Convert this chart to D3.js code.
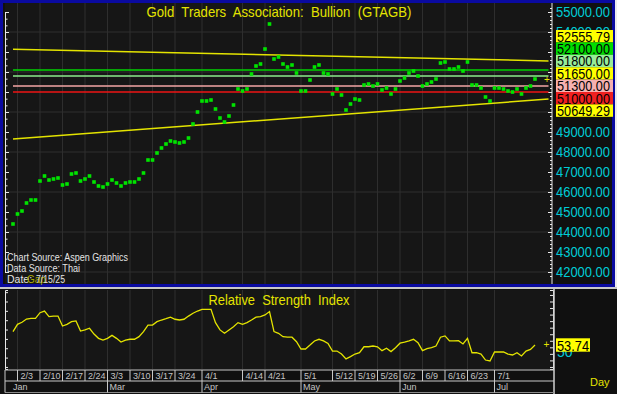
<!DOCTYPE html>
<html lang="en">
<head>
<meta charset="UTF-8">
<title>Gold Traders Association: Bullion (GTAGB)</title>
<script src="https://d3js.org/d3.v7.min.js"></script>
<style>
  html, body { margin: 0; padding: 0; background: #ececec; }
  svg { display: block; font-family: "Liberation Sans", Arial, sans-serif; }
</style>
</head>
<body>
<svg width="617" height="394"></svg>
<script>
// ---- data ----
const firstDay = "2025-01-31";
const lastDay = "2025-07-14";

const closes = [
  44400, 44900, 45050, 45450, 45600, 45600, 46550, 46800, 46600, 46650,
  46700, 46350, 46400, 46900, 46950, 46550, 46650, 46800, 46500, 46300,
  46250, 46400, 46600, 46450, 46300, 46450, 46500, 46500, 46650, 46950,
  47600, 47600, 47950, 48200, 48400, 48550, 48500, 48450, 48500, 48700,
  49400, 50000, 50550, 50550, 50600, 50150, 49700, 49500, 49800, 50350,
  51150, 51050, 51150, 51900, 52300, 52400, 53150, 54400, 52650, 52750,
  52400, 52250, 52350, 51950, 51050, 51050, 51600, 52250, 52350, 51950,
  51900, 50900, 51150, 50850, 50100, 50400, 50650, 50600, 51350, 51400,
  51300, 51400, 51100, 51200, 50900, 51150, 51550, 51700, 51950, 52050,
  51800, 51300, 51400, 51500, 51650, 52450, 52500, 52150, 52150, 52250,
  52050, 52500, 51350, 51350, 51200, 50750, 50550, 51200, 51200, 51150,
  51050, 51000, 51150, 50900, 51200, 51300, 51650
];

const rsi = [
  60.9, 64.8, 65.9, 67.6, 68.0, 68.0, 71.0, 71.9, 68.9, 69.2,
  69.2, 63.9, 64.8, 66.2, 66.6, 61.2, 61.8, 62.7, 59.6, 57.3,
  56.4, 57.3, 58.9, 57.3, 55.3, 56.3, 56.8, 56.8, 58.2, 60.9,
  64.4, 64.4, 66.2, 67.1, 67.8, 68.6, 67.5, 67.1, 67.5, 69.2,
  70.7, 71.9, 72.8, 72.8, 72.8, 65.7, 61.8, 60.0, 61.8, 63.5,
  65.7, 64.8, 65.7, 67.1, 68.6, 68.9, 69.8, 71.6, 60.9, 60.0,
  58.2, 57.9, 57.9, 55.5, 51.6, 51.6, 53.7, 55.9, 56.8, 55.9,
  54.6, 50.5, 50.5, 48.9, 46.3, 47.5, 48.9, 49.6, 52.8, 52.8,
  53.2, 52.8, 50.7, 52.0, 50.2, 52.3, 54.7, 55.3, 56.0, 56.8,
  55.0, 50.7, 51.8, 52.3, 53.2, 57.9, 58.6, 55.9, 55.9, 56.0,
  54.3, 57.3, 49.6, 49.6, 48.9, 45.7, 45.2, 50.0, 50.0, 50.0,
  48.9, 48.4, 49.6, 47.9, 50.5, 51.4, 53.74
];

const weekTicks = ["2/3", "2/10", "2/17", "2/24", "3/3", "3/10", "3/17", "3/24", "4/1",
  "4/14", "4/21", "5/1", "5/12", "5/19", "5/26", "6/2", "6/9", "6/16", "6/23", "7/1"];
const monthStarts = ["1/31", "3/3", "4/1", "5/1", "6/2", "7/1"];
const monthNames = ["Jan", "Mar", "Apr", "May", "Jun", "Jul"];

const priceLabels = [42000, 43000, 44000, 45000, 46000, 47000, 48000, 49000,
  50000, 51000, 52000, 53000, 54000, 55000];
const levels = [52100, 51800, 51300, 51000];
const channelStart = [53140, 48650];
const channelEnd = [52555.79, 50649.29];
const lastPrice = 51650;
const lastRsi = 53.74;

// ---- styles ----
const levelColors = ["#00d400", "#8cec8c", "#f4a6a6", "#ee1414"];
const boxColors = {"52555.79": "#ffff00", "52100.00": "#00dd00", "51800.00": "#98ec98",
  "51650.00": "#ffff00", "51300.00": "#f6b0b0", "51000.00": "#f02020", "50649.29": "#ffff00"};
const yellow = "#e4e400";
const cyan = "#00ccd6";
const gridColor = "#2e2e2e";
const f2 = d3.format(".2f");

// ---- scales ----
const parse = d3.timeParse("%Y-%m-%d");
const fmt = d3.timeFormat("%-m/%-d");
const days = d3.timeDay.range(parse(firstDay), d3.timeDay.offset(parse(lastDay), 1))
  .filter(d => d.getDay() !== 0 && d.getDay() !== 6)
  .map(fmt);

const x = d3.scalePoint().domain(days).range([13, 535]);
const step = x.step();
const xEnd = x(days[days.length - 1]) + step * 3;

const y = d3.scaleLinear().domain([42000, 55000]).range([272, 12]);
const yr = d3.scaleLinear().domain([40.9, 83.15]).range([369, 290]);

const svg = d3.select("svg");

// ---- main panel ----
svg.append("rect").attr("x", 1.5).attr("y", 1.5).attr("width", 612).attr("height", 284)
  .attr("fill", "#101010").attr("stroke", "#0a0aa0").attr("stroke-width", 3);
svg.append("rect").attr("x", 5).attr("y", 3).attr("width", 547).attr("height", 281)
  .attr("fill", "#161616");

const main = svg.append("g");

// grid
main.selectAll(".hg").data(d3.range(42000, 55001, 2000)).join("line")
  .attr("x1", 5).attr("x2", 552)
  .attr("y1", d => y(d)).attr("y2", d => y(d))
  .attr("stroke", gridColor);
main.selectAll(".vg").data(weekTicks).join("line")
  .attr("x1", d => x(d)).attr("x2", d => x(d))
  .attr("y1", 3).attr("y2", 284)
  .attr("stroke", gridColor);

// left axis (ticks only)
const leftAxis = main.append("g").attr("transform", "translate(5,0)")
  .call(d3.axisRight(y).tickValues(d3.range(42000, 55300, 1000 / 3)).tickSize(3).tickFormat(""));
leftAxis.selectAll("line").attr("stroke", "#e8e8e8")
  .attr("x2", (d, i) => i % 3 === 0 ? 4 : 2.5);
leftAxis.select(".domain").attr("stroke", "#e8e8e8");

// right axis
const rightAxis = main.append("g").attr("transform", "translate(552,0)")
  .call(d3.axisLeft(y).tickValues(d3.range(41800, 55300, 200)).tickSize(2).tickFormat(""));
rightAxis.selectAll("line").attr("stroke", "#e8e8e8")
  .attr("x2", d => d % 1000 === 0 ? -4 : -2);
rightAxis.select(".domain").attr("stroke", "#e8e8e8").attr("d", "M0,3V284");

// stacked value boxes on the right (layout first, so covered labels can be skipped)
const boxValues = [channelEnd[0], ...levels.slice(0, 2), lastPrice, ...levels.slice(2), channelEnd[1]];
const boxH = 12.4;
const midY = d3.mean(boxValues, d => y(d)) - 7;
const boxY = (d, i) => midY + (i - (boxValues.length - 1) / 2) * boxH;
const boxTop = boxY(null, 0) - boxH / 2;
const boxBottom = boxY(null, boxValues.length - 1) + boxH / 2;

main.selectAll(".plab").data(priceLabels.filter(d => !(y(d) > boxTop + 4 && y(d) < boxBottom)))
  .join("text")
  .attr("x", 556).attr("y", d => y(d)).attr("dy", "0.36em")
  .attr("fill", cyan).attr("font-size", 14)
  .attr("textLength", 54).attr("lengthAdjust", "spacingAndGlyphs")
  .text(d => f2(d));

// level lines
main.selectAll(".lvl").data(levels).join("line")
  .attr("x1", x(days[0])).attr("x2", xEnd)
  .attr("y1", d => y(d)).attr("y2", d => y(d))
  .attr("stroke", (d, i) => levelColors[i]).attr("stroke-width", 1.3);

// channel lines
main.selectAll(".chan").data(channelStart).join("line")
  .attr("x1", x(days[0])).attr("x2", xEnd)
  .attr("y1", d => y(d)).attr("y2", (d, i) => y(channelEnd[i]))
  .attr("stroke", yellow).attr("stroke-width", 1.5);

// price dots
main.selectAll(".dot").data(closes).join("rect")
  .attr("x", (d, i) => x(days[i]) - 1.8).attr("y", d => y(d) - 1.8)
  .attr("width", 3.6).attr("height", 3.6)
  .attr("fill", "#00e400");

main.append("text").attr("x", xEnd - 1.5).attr("y", y(lastPrice)).attr("dy", "0.35em")
  .attr("text-anchor", "middle").attr("fill", yellow).attr("font-size", 10).text("+");

const boxes = main.selectAll(".box").data(boxValues).join("g")
  .attr("transform", (d, i) => `translate(556,${boxY(d, i)})`);
boxes.append("rect").attr("x", 0).attr("y", -boxH / 2).attr("width", 57).attr("height", boxH)
  .attr("fill", d => boxColors[f2(d)]);
boxes.append("text").attr("x", 1).attr("dy", "0.38em")
  .attr("fill", "#000").attr("font-size", 14)
  .attr("textLength", 53).attr("lengthAdjust", "spacingAndGlyphs")
  .text(d => f2(d));

// title
main.append("text").attr("x", 279).attr("y", 17).attr("text-anchor", "middle")
  .attr("fill", yellow).attr("font-size", 15).style("white-space", "pre")
  .attr("textLength", 265).attr("lengthAdjust", "spacingAndGlyphs")
  .text("Gold  Traders  Association:  Bullion  (GTAGB)");

// source notes
const notes = main.append("g").attr("fill", "#e4e4e4").attr("font-size", 10.5)
  .style("white-space", "pre").attr("lengthAdjust", "spacingAndGlyphs");
notes.append("text").attr("x", 7).attr("y", 261).attr("textLength", 121)
  .attr("lengthAdjust", "spacingAndGlyphs").text("Chart  Source:  Aspen  Graphics");
notes.append("text").attr("x", 7).attr("y", 272).attr("textLength", 73)
  .attr("lengthAdjust", "spacingAndGlyphs").text("Data  Source:  Thai");
notes.append("text").attr("x", 7).attr("y", 283).text("Date:");
notes.append("text").attr("x", 27).attr("y", 283).attr("fill", "#a8a800").attr("font-size", 10).text("Gap");
notes.append("text").attr("x", 36).attr("y", 283).attr("textLength", 29)
  .attr("lengthAdjust", "spacingAndGlyphs").text("7/15/25");

// ---- RSI panel ----
svg.append("rect").attr("x", 0).attr("y", 287).attr("width", 617).attr("height", 107).attr("fill", "#101010");
svg.append("line").attr("x1", 0).attr("x2", 617).attr("y1", 288).attr("y2", 288)
  .attr("stroke", "#c8c8c8").attr("stroke-width", 2);
svg.append("rect").attr("x", 5).attr("y", 290).attr("width", 548).attr("height", 79).attr("fill", "#161616");

const low = svg.append("g");
low.selectAll(".vg").data(weekTicks).join("line")
  .attr("x1", d => x(d)).attr("x2", d => x(d))
  .attr("y1", 290).attr("y2", 369)
  .attr("stroke", gridColor);

const rl = low.append("g").attr("transform", "translate(5,0)")
  .call(d3.axisRight(yr).tickValues(d3.range(42, 83, 5)).tickSize(3).tickFormat(""));
rl.selectAll("line").attr("stroke", "#e8e8e8");
rl.select(".domain").attr("stroke", "#e8e8e8");

const rr = low.append("g").attr("transform", "translate(553,0)")
  .call(d3.axisLeft(yr).tickValues(d3.range(42, 83, 3.5)).tickSize(3).tickFormat(""));
rr.selectAll("line").attr("stroke", "#e8e8e8");
rr.select(".domain").attr("stroke", "#e8e8e8");
low.append("line").attr("x1", 554).attr("x2", 554).attr("y1", 289).attr("y2", 394)
  .attr("stroke", "#d0d0d0").attr("stroke-width", 1.5);

low.append("path").datum(rsi)
  .attr("fill", "none").attr("stroke", yellow).attr("stroke-width", 1.3)
  .attr("d", d3.line().x((d, i) => x(days[i])).y(d => yr(d)));

low.append("text").attr("x", 279).attr("y", 305).attr("text-anchor", "middle")
  .attr("fill", yellow).attr("font-size", 15).style("white-space", "pre")
  .attr("textLength", 141).attr("lengthAdjust", "spacingAndGlyphs")
  .text("Relative  Strength  Index");

low.append("text").attr("x", 546.5).attr("y", yr(lastRsi)).attr("dy", "0.35em")
  .attr("text-anchor", "middle").attr("fill", yellow).attr("font-size", 10).text("+");

low.append("text").attr("x", 557).attr("y", yr(50)).attr("dy", "0.36em")
  .attr("fill", cyan).attr("font-size", 14).text("50");
const rbox = low.append("g").attr("transform", `translate(556,${yr(lastRsi)})`);
rbox.append("rect").attr("y", -6.7).attr("width", 34).attr("height", 13.4).attr("fill", "#ffff00");
rbox.append("text").attr("x", 1).attr("dy", "0.38em").attr("fill", "#000").attr("font-size", 15)
  .attr("textLength", 32).attr("lengthAdjust", "spacingAndGlyphs").text(f2(lastRsi));

// ---- date axis rows ----
const axisG = svg.append("g").attr("stroke", "#c8c8c8");
axisG.append("line").attr("x1", 5).attr("x2", 554).attr("y1", 370).attr("y2", 370);
axisG.append("line").attr("x1", 5).attr("x2", 554).attr("y1", 381).attr("y2", 381);
axisG.append("line").attr("x1", 5).attr("x2", 554).attr("y1", 392.5).attr("y2", 392.5).attr("stroke", "#8a8a8a");
axisG.append("line").attr("x1", 5).attr("x2", 5).attr("y1", 370).attr("y2", 392.5);
axisG.selectAll(".wk").data(weekTicks).join("line")
  .attr("x1", d => x(d)).attr("x2", d => x(d)).attr("y1", 370).attr("y2", 381);
axisG.selectAll(".mo").data(monthStarts.slice(1)).join("line")
  .attr("x1", d => x(d)).attr("x2", d => x(d)).attr("y1", 381).attr("y2", 392.5);

svg.append("g").selectAll("text").data(weekTicks).join("text")
  .attr("x", d => x(d) + 3).attr("y", 379.3)
  .attr("fill", "#c4c4c4").attr("font-size", 9).text(d => d);
svg.append("g").selectAll("text").data(monthStarts).join("text")
  .attr("x", (d, i) => i === 0 ? x(d) : x(d) + 2).attr("y", 390)
  .attr("fill", "#c4c4c4").attr("font-size", 9).text((d, i) => monthNames[i]);

svg.append("text").attr("x", 590).attr("y", 386).attr("fill", yellow).attr("font-size", 11).text("Day");
</script>
</body>
</html>
